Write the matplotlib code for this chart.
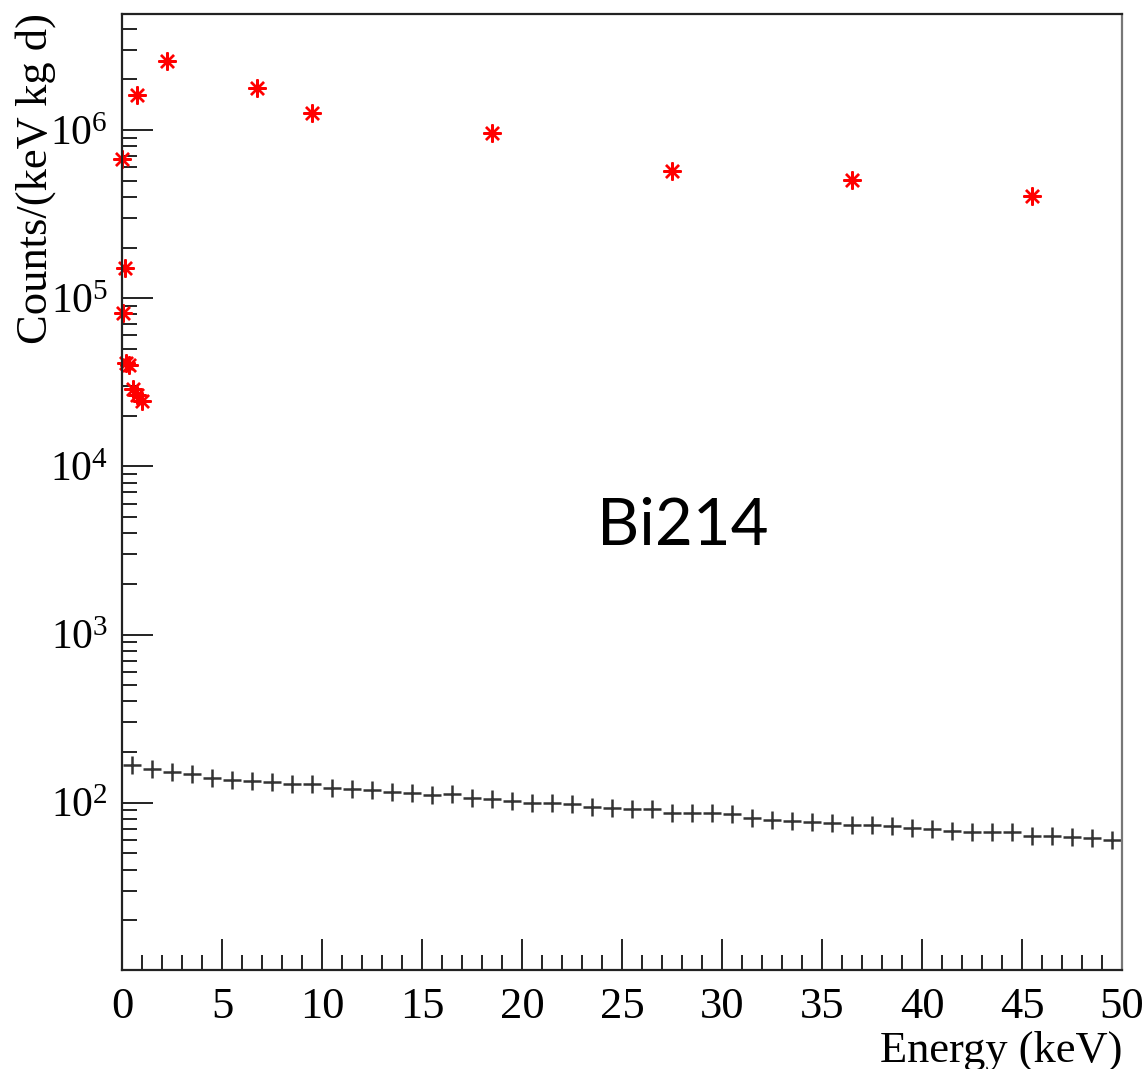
import numpy as np
import matplotlib
matplotlib.use('Agg')
import matplotlib.pyplot as plt
from matplotlib.ticker import LogLocator, MultipleLocator, LogFormatterSciNotation, NullFormatter

# red points (Bi214 signal)
sig_energy = [0.015, 0.035, 0.15, 0.2, 0.35, 0.55, 0.75, 0.98, 0.77, 2.26, 6.73, 9.5, 18.5, 27.5, 36.5, 45.5]
sig_counts = [6.7e5, 8.15e4, 1.52e5, 4.1e4, 4.0e4, 2.9e4, 2.66e4, 2.45e4,
              1.61e6, 2.58e6, 1.77e6, 1.26e6, 9.6e5, 5.7e5, 5.05e5, 4.05e5]

# black crosses (background spectrum, 1 keV bins)
bkg_energy = [i + 0.5 for i in range(50)]
bkg_counts = [167.6, 158.7, 151.6, 148.1, 139.7, 136.4, 134.6, 132.2, 129.2, 128.6,
              121.8, 120.2, 119.0, 115.3, 113.7, 111.1, 112.2, 106.2, 104.8, 102.8,
              100.0, 99.2, 98.2, 93.9, 92.6, 91.3, 91.3, 87.2, 87.2, 86.5,
              85.3, 80.8, 78.9, 77.8, 77.1, 76.0, 73.7, 73.7, 72.7, 71.0,
              69.5, 68.2, 67.2, 66.7, 67.2, 63.4, 63.4, 62.8, 61.9, 60.0]

plt.rcParams['mathtext.fontset'] = 'custom'
plt.rcParams['mathtext.rm'] = 'Liberation Serif'
plt.rcParams['mathtext.it'] = 'Liberation Serif:italic'
plt.rcParams['font.family'] = 'Liberation Serif'

fig = plt.figure(figsize=(11.47, 10.69), dpi=100)
ax = fig.add_axes([0.10637, 0.09261, 0.87184, 0.89429])

ax.plot(bkg_energy, bkg_counts, linestyle='none', marker='+', markersize=13,
        markeredgewidth=1.8, color='#333333')
ax.plot(sig_energy, sig_counts, linestyle='none', marker=(8, 2, 0), markersize=13,
        markeredgewidth=1.7, color='#ff0000', clip_on=False)

ax.set_yscale('log')
ax.set_xlim(0, 50)
ax.set_ylim(10.12, 4.895e6)

ax.xaxis.set_major_locator(MultipleLocator(5))
ax.xaxis.set_minor_locator(MultipleLocator(1))
ax.yaxis.set_major_locator(LogLocator(base=10, numticks=20))
ax.yaxis.set_minor_locator(LogLocator(base=10, subs=np.arange(2, 10), numticks=20))
ax.yaxis.set_major_formatter(LogFormatterSciNotation())
ax.yaxis.set_minor_formatter(NullFormatter())

ax.tick_params(which='both', direction='in', top=False, right=False, width=1.4, color='#222222')
ax.tick_params(which='major', length=22, pad=10)
ax.tick_params(which='minor', length=11)
ax.tick_params(axis='x', which='major', labelsize=32, pad=12)
ax.tick_params(axis='y', which='major', labelsize=30)

for s in ax.spines.values():
    s.set_linewidth(1.6)
    s.set_color('#222222')
ax.spines['right'].set_color('#777777')

ax.set_xlabel('Energy (keV)', fontsize=32, loc='right')
ax.xaxis.set_label_coords(1.0, -0.063)
fig.text(36 / 1147, 1 - 13 / 1069, 'Counts/(keV kg d)', fontsize=32, rotation=90,
         ha='center', va='top')

ax.text(0.561, 0.4446, 'Bi214', transform=ax.transAxes, fontsize=47,
        family=['Lato', 'DejaVu Sans'], ha='center', va='baseline')

fig.savefig('out.png', dpi=100)
